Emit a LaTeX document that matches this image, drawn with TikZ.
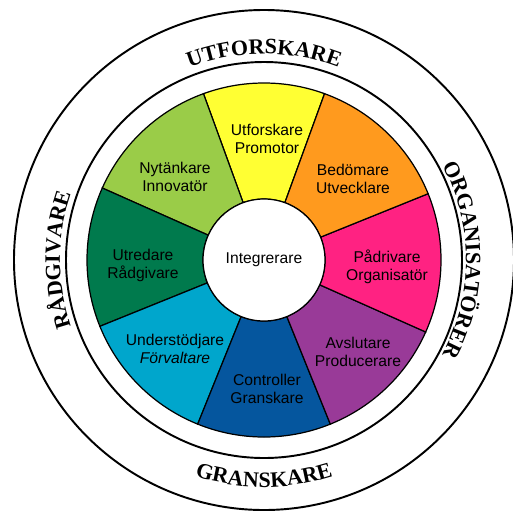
\documentclass[tikz,border=0pt]{standalone}
\usepackage{fontspec}
\setmainfont{Liberation Sans}
\newfontfamily\ringfont{Liberation Serif}
\usepackage{tikz}
\usetikzlibrary{positioning,calc,decorations.text}
\definecolor{segyellow}{HTML}{FFFF33}
\definecolor{segorange}{HTML}{FF9A1E}
\definecolor{segpink}{HTML}{FF2282}
\definecolor{segpurple}{HTML}{993A98}
\definecolor{segblue}{HTML}{05569E}
\definecolor{segcyan}{HTML}{00A6CC}
\definecolor{segdkgreen}{HTML}{007A4D}
\definecolor{seglgreen}{HTML}{9ACC48}
\tikzstyle{sector}=[draw=black, line width=0.7pt]
\tikzstyle{ring}=[draw=black, line width=1.1pt]
\tikzstyle{seglabel}=[align=center, font=\fontsize{8.9}{10.2}\selectfont, inner sep=0pt]
\tikzstyle{hub}=[circle, draw=black, fill=white, line width=0.7pt, minimum size=2.44cm, inner sep=0pt, font=\fontsize{8.9}{10.2}\selectfont]
\tikzstyle{ringtext}=[decorate]

\begin{document}
\begin{tikzpicture}[]
  \useasboundingbox (-5.28, -5.04) rectangle (4.98, 5.2);

  \draw [ring] (0, 0) circle (5.0);
  \draw [ring] (0, 0) circle (3.96);

  \draw [sector, fill=segyellow]  (70:1.22)  -- (70:3.54)  arc [start angle=70,  end angle=110, radius=3.54] -- (110:1.22) arc [start angle=110, end angle=70,  radius=1.22] -- cycle;
  \draw [sector, fill=seglgreen]  (110:1.22) -- (110:3.54) arc [start angle=110, end angle=156, radius=3.54] -- (156:1.22) arc [start angle=156, end angle=110, radius=1.22] -- cycle;
  \draw [sector, fill=segdkgreen] (156:1.22) -- (156:3.54) arc [start angle=156, end angle=202, radius=3.54] -- (202:1.22) arc [start angle=202, end angle=156, radius=1.22] -- cycle;
  \draw [sector, fill=segcyan]    (202:1.22) -- (202:3.54) arc [start angle=202, end angle=248, radius=3.54] -- (248:1.22) arc [start angle=248, end angle=202, radius=1.22] -- cycle;
  \draw [sector, fill=segblue]    (248:1.22) -- (248:3.54) arc [start angle=248, end angle=292, radius=3.54] -- (292:1.22) arc [start angle=292, end angle=248, radius=1.22] -- cycle;
  \draw [sector, fill=segpurple]  (292:1.22) -- (292:3.54) arc [start angle=292, end angle=336, radius=3.54] -- (336:1.22) arc [start angle=336, end angle=292, radius=1.22] -- cycle;
  \draw [sector, fill=segpink]    (336:1.22) -- (336:3.54) arc [start angle=336, end angle=382, radius=3.54] -- (22:1.22)  arc [start angle=382, end angle=336, radius=1.22] -- cycle;
  \draw [sector, fill=segorange]  (22:1.22)  -- (22:3.54)  arc [start angle=22,  end angle=70,  radius=3.54] -- (70:1.22)  arc [start angle=70,  end angle=22,  radius=1.22] -- cycle;

  \node [hub] at (0, 0) (integrerare) {Integrerare};

  \node [seglabel] at (0.06, 2.42)   (utforskare)    {Utforskare\\Promotor};
  \node [seglabel] at (1.78, 1.62)   (bedomare)      {Bedömare\\Utvecklare};
  \node [seglabel] at (2.46, -0.14)  (padrivare)     {Pådrivare\\Organisatör};
  \node [seglabel] at (1.88, -1.84)  (avslutare)     {Avslutare\\Producerare};
  \node [seglabel] at (0.06, -2.58)  (controller)    {Controller\\Granskare};
  \node [seglabel] at (-1.78, -1.78) (understodjare) {Understödjare\\\textit{Förvaltare}};
  \node [seglabel] at (-2.42, -0.10) (utredare)      {Utredare\\Rådgivare};
  \node [seglabel] at (-1.78, 1.66)  (nytankare)     {Nytänkare\\Innovatör};

  \path [ringtext, decoration={text along path, text align=center, text={|\ringfont\bfseries\fontsize{12.5}{15}\selectfont|UTFORSKARE}}] (150:4.12) arc [start angle=150, end angle=30, radius=4.12];
  \path [ringtext, decoration={text along path, text align=center, text={|\ringfont\bfseries\fontsize{12.5}{15}\selectfont|ORGANISATÖRER}}] (60:4.04) arc [start angle=60, end angle=-60, radius=4.04];
  \path [ringtext, decoration={text along path, text align=center, text={|\ringfont\bfseries\fontsize{12.5}{15}\selectfont|RÅDGIVARE}}] (240:4.08) arc [start angle=240, end angle=120, radius=4.08];
  \path [ringtext, decoration={text along path, text align=center, text={|\ringfont\bfseries\fontsize{12.5}{15}\selectfont|GRANSKARE}}] (210:4.54) arc [start angle=210, end angle=330, radius=4.54];
\end{tikzpicture}
\end{document}
